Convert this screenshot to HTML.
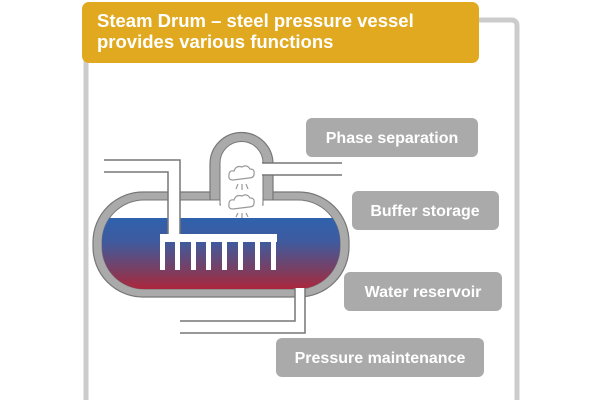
<!DOCTYPE html>
<html><head><meta charset="utf-8"><style>
body{margin:0;background:#fff;}
svg{display:block;font-family:"Liberation Sans",sans-serif;}
</style></head><body>
<svg width="600" height="400" viewBox="0 0 600 400">
<defs>
<linearGradient id="liq" x1="0" y1="0" x2="0" y2="1">
<stop offset="0" stop-color="#2f62ad"/><stop offset="0.3" stop-color="#3f5a9e"/>
<stop offset="0.65" stop-color="#7a3f62"/><stop offset="1" stop-color="#c41a2a"/>
</linearGradient>
<clipPath id="inner"><rect x="102" y="200" width="238" height="89" rx="42"/></clipPath>
</defs>
<path d="M86 60 V400 M470 20 H511 Q517 20 517 26 V400" fill="none" stroke="#cccccc" stroke-width="5"/>
<rect x="82" y="2" width="397" height="61" rx="7" fill="#e0a920"/>
<text x="97" y="27" font-size="18.5" font-weight="bold" fill="#fff">Steam Drum – steel pressure vessel</text>
<text x="97" y="48" font-size="18.5" font-weight="bold" fill="#fff">provides various functions</text>
<rect x="93" y="192" width="256" height="105" rx="50" fill="#aaa" stroke="#777" stroke-width="1.2"/>
<path d="M210 200 V164 A31.5 31.5 0 0 1 273 164 V200 Z" fill="#aaa" stroke="#777" stroke-width="1.2"/>
<rect x="212" y="192" width="59" height="10" fill="#aaa"/>
<rect x="102" y="200" width="238" height="89" rx="42" fill="#fff" stroke="#777" stroke-width="1"/>
<path d="M220 205 V163 A21.5 21.5 0 0 1 263 163 V205 Z" fill="#fff" stroke="#777" stroke-width="1"/>
<rect x="221" y="195" width="41" height="12" fill="#fff"/>
<rect x="90" y="218" width="260" height="80" fill="url(#liq)" clip-path="url(#inner)"/>
<rect x="258" y="163" width="90" height="12" fill="#fff"/>
<path d="M262 163 H342 M262 175 H342" stroke="#777" stroke-width="1.5"/>
<rect x="168" y="160" width="12" height="78" fill="#fff"/>
<path d="M104 160 H180 V235 M104 172 H168 V235" fill="none" stroke="#777" stroke-width="1.5"/>
<rect x="160" y="234" width="117" height="8" fill="#fff"/>
<g fill="#fff">
<rect x="160" y="240" width="5" height="30"/><rect x="175" y="240" width="5" height="30"/>
<rect x="191" y="240" width="5" height="30"/><rect x="206" y="240" width="5" height="30"/>
<rect x="222" y="240" width="5" height="30"/><rect x="238" y="240" width="5" height="30"/>
<rect x="255" y="240" width="5" height="30"/><rect x="271" y="240" width="5" height="30"/>
</g>
<rect x="295" y="288" width="10" height="40" fill="#fff"/>
<path d="M295 288 V321 H180 M305 288 V333 H180" fill="none" stroke="#777" stroke-width="1.5"/>
<g fill="none" stroke="#999" stroke-width="1.2">
<path d="M233 180 q-5 0 -4 -5 q0 -5 5 -4 q2 -6 8 -4 q5 -3 8 2 q5 0 4 5 q0 4 -5 4 z"/>
<path d="M238 184 l-2 5 M242 184 v6 M246 184 l2 5"/>
<path d="M233 209 q-5 0 -4 -5 q0 -5 5 -4 q2 -6 8 -4 q5 -3 8 2 q5 0 4 5 q0 4 -5 4 z"/>
<path d="M238 213 l-2 4 M242 213 v5 M246 213 l2 4"/>
</g>
<g font-size="16" font-weight="bold" fill="#fff">
<rect x="306" y="118" width="172" height="39" rx="6" fill="#aaa"/>
<text x="392" y="143" text-anchor="middle">Phase separation</text>
<rect x="352" y="191" width="147" height="39" rx="6" fill="#aaa"/>
<text x="425" y="216" text-anchor="middle">Buffer storage</text>
<rect x="344" y="272" width="158" height="39" rx="6" fill="#aaa"/>
<text x="423" y="297" text-anchor="middle">Water reservoir</text>
<rect x="276" y="338" width="208" height="39" rx="6" fill="#aaa"/>
<text x="380" y="363" text-anchor="middle">Pressure maintenance</text>
</g>
</svg>
</body></html>
